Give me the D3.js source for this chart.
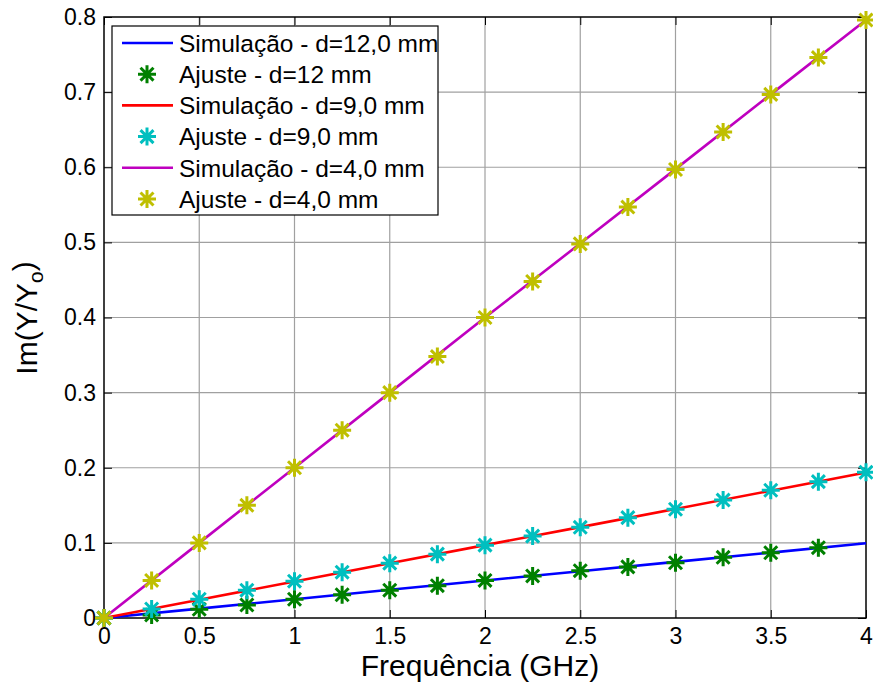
<!DOCTYPE html>
<html>
<head>
<meta charset="utf-8">
<script src="https://cdn.jsdelivr.net/npm/d3@7"></script>
<style>
  html, body { margin: 0; padding: 0; background: #fff; }
  svg { display: block; font-family: Arial, "Liberation Sans", sans-serif; }
</style>
</head>
<body>
<svg id="chart" width="873" height="688"></svg>
<script>
// Frequency grids (GHz)
const simFreq = [0, 0.5, 1, 1.5, 2, 2.5, 3, 3.5, 4];
const fitFreq = [0, 0.25, 0.5, 0.75, 1, 1.25, 1.5, 1.75, 2, 2.25, 2.5, 2.75, 3, 3.25, 3.5, 3.75, 4];

// Simulated Im(Y/Yo)
const sim12 = [0, 0.0125, 0.025, 0.0375, 0.05, 0.0623, 0.0747, 0.087, 0.0995];
const sim9  = [0, 0.0243, 0.0485, 0.0728, 0.097, 0.121, 0.1452, 0.1695, 0.1937];
const sim4  = [0, 0.1, 0.2, 0.3, 0.4, 0.4985, 0.5975, 0.697, 0.796];

// Fitted Im(Y/Yo) (d=12 mm has no point at 4 GHz)
const fit12 = [0, 0.004, 0.0116, 0.0173, 0.0249, 0.031, 0.037, 0.043, 0.05, 0.056, 0.063, 0.068, 0.0736, 0.0808, 0.0869, 0.0936];
const fit9  = [0, 0.012, 0.025, 0.037, 0.049, 0.061, 0.073, 0.085, 0.097, 0.109, 0.1207, 0.1336, 0.1447, 0.157, 0.17, 0.1815, 0.194];
const fit4  = [0, 0.05, 0.1, 0.15, 0.2, 0.25, 0.3, 0.348, 0.4, 0.448, 0.498, 0.547, 0.597, 0.647, 0.697, 0.746, 0.796];

const xTicks = [0, 0.5, 1, 1.5, 2, 2.5, 3, 3.5, 4];
const yTicks = [0, 0.1, 0.2, 0.3, 0.4, 0.5, 0.6, 0.7, 0.8];

const legendLabels = [
  "Simulação - d=12,0 mm", "Ajuste - d=12 mm",
  "Simulação - d=9,0 mm", "Ajuste - d=9,0 mm",
  "Simulação - d=4,0 mm", "Ajuste - d=4,0 mm"
];

const colors = {
  blue: "#0000ff", green: "#008000",
  red: "#ff0000", cyan: "#00bfbf",
  magenta: "#bf00bf", yellow: "#bfbf00"
};

const series = [
  { type: "line", x: simFreq, y: sim12, color: colors.blue },
  { type: "marker", x: fitFreq, y: fit12, color: colors.green },
  { type: "line", x: simFreq, y: sim9, color: colors.red },
  { type: "marker", x: fitFreq, y: fit9, color: colors.cyan },
  { type: "line", x: simFreq, y: sim4, color: colors.magenta },
  { type: "marker", x: fitFreq, y: fit4, color: colors.yellow }
];

const svg = d3.select("#chart");
const L = 104, R = 866, T = 17, B = 618;

const x = d3.scaleLinear().domain([0, 4]).range([L, R]);
const y = d3.scaleLinear().domain([0, 0.8]).range([B, T]);

// grid
const grid = svg.append("g");
grid.selectAll("line.vx").data(xTicks.slice(1, -1)).enter().append("line")
  .attr("x1", d => x(d)).attr("x2", d => x(d)).attr("y1", T).attr("y2", B)
  .attr("stroke", "#a0a0a0").attr("stroke-width", 1.2);
grid.selectAll("line.hy").data(yTicks.slice(1, -1)).enter().append("line")
  .attr("x1", L).attr("x2", R).attr("y1", d => y(d)).attr("y2", d => y(d))
  .attr("stroke", "#a0a0a0").attr("stroke-width", 1.2);

// axes with inward ticks, mirrored on top/right
const tickLen = 8;
const fmt = d => d === 0 ? "0" : d3.format("")(d);
const xAxis = d3.axisBottom(x).tickValues(xTicks).tickSize(-tickLen).tickPadding(10).tickFormat(fmt);
const yAxis = d3.axisLeft(y).tickValues(yTicks).tickSize(-tickLen).tickPadding(8).tickFormat(fmt);
const xTop = d3.axisTop(x).tickValues(xTicks).tickSize(-tickLen).tickFormat("");
const yRight = d3.axisRight(y).tickValues(yTicks).tickSize(-tickLen).tickFormat("");

function styleAxis(g) {
  g.select(".domain").remove();
  g.selectAll(".tick line").attr("stroke", "#000").attr("stroke-width", 1);
  g.selectAll(".tick text").attr("fill", "#000").style("font-size", "23px")
    .style("font-family", "Arial, 'Liberation Sans', sans-serif");
}
svg.append("g").attr("transform", `translate(0,${B})`).call(xAxis).call(styleAxis)
  .selectAll(".tick text").attr("dy", "0.71em");
svg.append("g").attr("transform", `translate(${L},0)`).call(yAxis).call(styleAxis);
svg.append("g").attr("transform", `translate(0,${T})`).call(xTop).call(styleAxis);
svg.append("g").attr("transform", `translate(${R},0)`).call(yRight).call(styleAxis);

// plot box
svg.append("rect").attr("x", L).attr("y", T).attr("width", R - L).attr("height", B - T)
  .attr("fill", "none").attr("stroke", "#000").attr("stroke-width", 1.5);

// asterisk marker path
function asterisk(r) {
  const d = r * 0.72;
  return `M${-r},0L${r},0M0,${-r}L0,${r}M${-d},${-d}L${d},${d}M${-d},${d}L${d},${-d}`;
}

const plot = svg.append("g");
const line = d3.line();
series.forEach(s => {
  if (s.type === "line") {
    plot.append("path")
      .attr("d", line(s.x.map((f, i) => [x(f), y(s.y[i])])))
      .attr("fill", "none").attr("stroke", s.color).attr("stroke-width", 2.6);
  } else {
    plot.append("g").selectAll("path").data(s.y).enter().append("path")
      .attr("transform", (v, i) => `translate(${x(s.x[i])},${y(v)})`)
      .attr("d", asterisk(9))
      .attr("fill", "none").attr("stroke", s.color).attr("stroke-width", 3)
      .attr("stroke-linecap", "butt");
  }
});

// legend
const lg = svg.append("g");
lg.append("rect").attr("x", 112).attr("y", 26).attr("width", 326).attr("height", 189)
  .attr("fill", "#fff").attr("stroke", "#000").attr("stroke-width", 1.2);
const rowY = i => 43 + i * 31.2;
series.forEach((s, i) => {
  const cy = rowY(i);
  if (s.type === "line") {
    lg.append("line").attr("x1", 122).attr("x2", 173).attr("y1", cy).attr("y2", cy)
      .attr("stroke", s.color).attr("stroke-width", 2.6);
  } else {
    lg.append("path").attr("transform", `translate(147,${cy})`).attr("d", asterisk(9))
      .attr("fill", "none").attr("stroke", s.color).attr("stroke-width", 3);
  }
  lg.append("text").attr("x", 179).attr("y", cy).attr("dy", "0.36em")
    .style("font-size", "24.5px").attr("fill", "#000").text(legendLabels[i]);
});

// axis titles
svg.append("text").attr("x", 480).attr("y", 676).attr("text-anchor", "middle")
  .style("font-size", "30px").attr("fill", "#000").text("Frequência (GHz)");

const yt = svg.append("text").attr("transform", "translate(37,318) rotate(-90)")
  .attr("text-anchor", "middle").style("font-size", "30px").attr("fill", "#000");
yt.append("tspan").text("Im(Y/Y");
yt.append("tspan").attr("dy", "0.3em").style("font-size", "21px").text("o");
yt.append("tspan").attr("dy", "-0.3em").text(")");
</script>
</body>
</html>
